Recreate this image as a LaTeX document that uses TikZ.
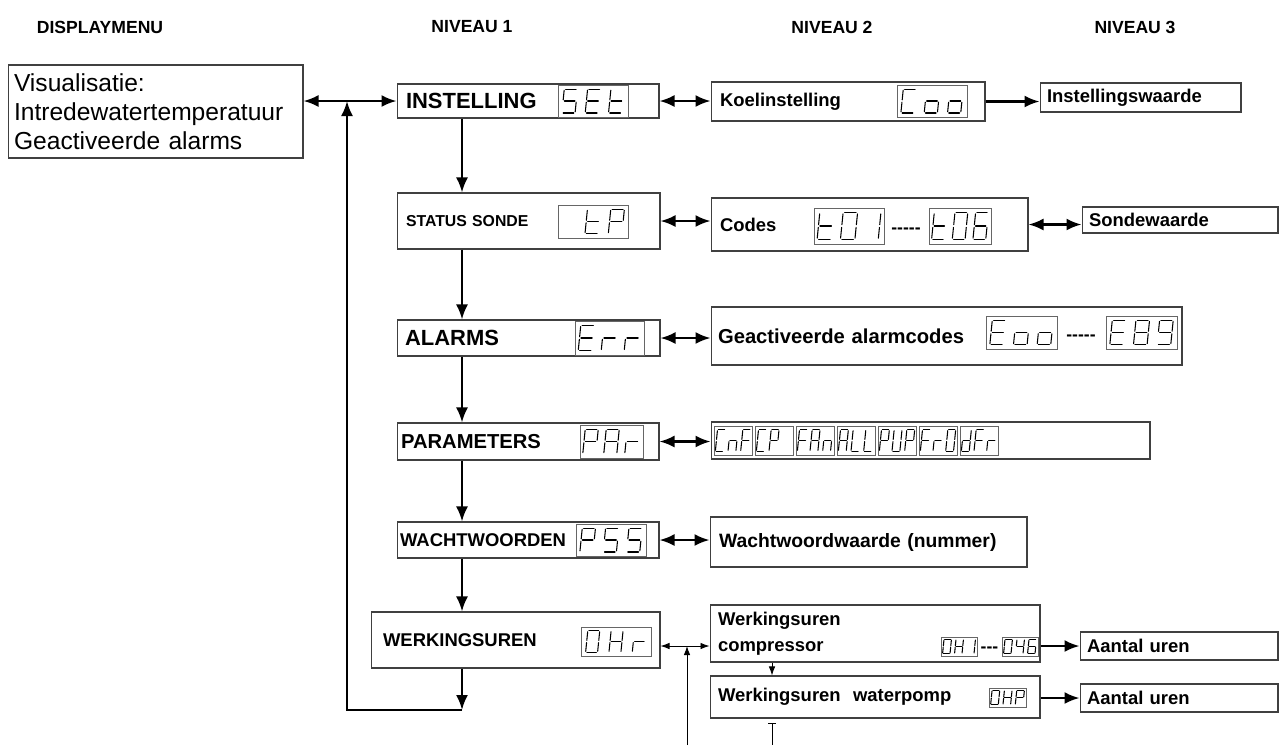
\documentclass[tikz,border=0pt]{standalone}
\usepackage{fontspec}
\setmainfont{Liberation Sans}
\usetikzlibrary{arrows.meta, positioning, calc}
\tikzset{
	boxone/.style  ={rectangle, draw=black!75, line width=0.6pt, inner xsep=0.18cm, inner ysep=0pt, align=left},
	boxtwo/.style  ={rectangle, draw=black!75, line width=0.6pt, inner xsep=0.16cm, inner ysep=0pt, align=left, font=\bfseries\fontsize{10.5}{13}\selectfont},
	headtxt/.style ={font=\bfseries\fontsize{10}{12}\selectfont},
	dashtxt/.style ={font=\bfseries\fontsize{10}{12}\selectfont, inner sep=0pt},
	flow/.style    ={-{Latex[length=3mm,width=2.4mm]}, line width=1.3pt},
	flowboth/.style={{Latex[length=3mm,width=2.4mm]}-{Latex[length=3mm,width=2.4mm]}, line width=1.3pt},
	thinflow/.style={-{Latex[length=1.8mm,width=1.3mm]}, line width=0.5pt},
	thinboth/.style={{Latex[length=1.8mm,width=1.3mm]}-{Latex[length=1.8mm,width=1.3mm]}, line width=0.5pt},
	% seven-segment read-outs
	lcdframe/.style={draw=black!60, line width=0.5pt},
	lcdseg/.style  ={line width=0.6pt, line cap=round},
}
\newcommand\sgA{\draw[lcdseg] (0.1,2)--(0.9,2);}
\newcommand\sgB{\draw[lcdseg] (1,1.9)--(1,1.1);}
\newcommand\sgC{\draw[lcdseg] (1,0.9)--(1,0.1);}
\newcommand\sgD{\draw[lcdseg] (0.1,0)--(0.9,0);}
\newcommand\sgE{\draw[lcdseg] (0,0.1)--(0,0.9);}
\newcommand\sgF{\draw[lcdseg] (0,1.1)--(0,1.9);}
\newcommand\sgG{\draw[lcdseg] (0.1,1)--(0.9,1);}
\newcommand\lcddef[2]{\expandafter\def\csname lcd:#1\endcsname{#2}}
\lcddef{x}{}
\lcddef{S}{\sgA\sgF\sgG\sgC\sgD}
\lcddef{E}{\sgA\sgF\sgG\sgE\sgD}
\lcddef{t}{\sgF\sgG\sgE\sgD}
\lcddef{C}{\sgA\sgF\sgE\sgD}
\lcddef{o}{\sgG\sgC\sgD\sgE}
\lcddef{P}{\sgA\sgB\sgF\sgG\sgE}
\lcddef{r}{\sgG\sgE}
\lcddef{A}{\sgA\sgB\sgC\sgE\sgF\sgG}
\lcddef{n}{\sgE\sgG\sgC}
\lcddef{F}{\sgA\sgF\sgG\sgE}
\lcddef{L}{\sgF\sgE\sgD}
\lcddef{U}{\sgF\sgE\sgD\sgC\sgB}
\lcddef{d}{\sgB\sgC\sgD\sgE\sgG}
\lcddef{H}{\sgF\sgB\sgG\sgE\sgC}
\lcddef{0}{\sgA\sgB\sgC\sgD\sgE\sgF}
\lcddef{1}{\sgB\sgC}
\lcddef{4}{\sgF\sgG\sgB\sgC}
\lcddef{6}{\sgA\sgF\sgG\sgE\sgD\sgC}
\lcddef{8}{\sgA\sgB\sgC\sgD\sgE\sgF\sgG}
\lcddef{9}{\sgA\sgB\sgC\sgD\sgF\sgG}
% \lcd{x1}{y1}{x2}{y2}{chars}
\newcommand\lcd[5]{%
	\draw[lcdframe] (#1,#2) rectangle (#3,#4);
	\foreach \lcdc [count=\lcdi] in {#5} {\xdef\lcdn{\lcdi}}
	\pgfmathsetmacro\lcdw{(#3-#1)/\lcdn}
	\pgfmathsetmacro\lcdh{0.75*(#4-#2)}
	\pgfmathsetmacro\lcdcw{min(0.55*\lcdh,0.62*\lcdw)}
	\foreach \lcdc [count=\lcdi] in {#5} {
		\begin{scope}[shift={({#1+(\lcdi-0.5)*\lcdw-0.5*\lcdcw-0.05*\lcdh},{(#2+#4)/2+\lcdh/2})}, xslant=0.1, x=\lcdcw*0.02cm, y=\lcdh*0.01cm]
			\csname lcd:\lcdc\endcsname
		\end{scope}
	}
}

\begin{document}
\begin{tikzpicture}[x=0.02cm, y=-0.02cm]
	\useasboundingbox (0,0) rectangle (1280,745);
	% column heads
	\node[headtxt] (hdisp) at (100,27) {DISPLAYMENU};
	\node[headtxt] (hniv1) at (472,27) {NIVEAU 1};
	\node[headtxt] (hniv2) at (832,27) {NIVEAU 2};
	\node[headtxt] (hniv3) at (1135,27) {NIVEAU 3};

	\node[boxone, inner xsep=0.12cm, text width=5.66cm, minimum height=1.86cm, font=\fontsize{14}{16.5}\selectfont] (vis) at (155.5,111.5) {Visualisatie:\\Intredewatertemperatuur\\Geactiveerde alarms};

	% niveau 1
	\node[boxone, text width=4.88cm, minimum height=0.68cm, font=\bfseries\fontsize{12.5}{14}\selectfont] (inst) at (528,101) {INSTELLING};
	\node[boxone, text width=4.90cm, minimum height=1.12cm, font=\bfseries\fontsize{9}{11}\selectfont] (stat) at (528.5,221) {STATUS SONDE};
	\node[boxone, inner xsep=0.16cm, text width=4.94cm, minimum height=0.72cm, font=\bfseries\fontsize{12.5}{14}\selectfont] (alrm) at (528.5,338) {ALARMS};
	\node[boxone, inner xsep=0.08cm, text width=5.08cm, minimum height=0.74cm, font=\bfseries\fontsize{11.5}{13}\selectfont] (para) at (528,441.5) {PARAMETERS};
	\node[boxone, inner xsep=0.06cm, text width=5.12cm, minimum height=0.72cm, font=\bfseries\fontsize{10.5}{12}\selectfont] (wach) at (528,540) {WACHTWOORDEN};
	\node[boxone, inner xsep=0.24cm, text width=5.30cm, minimum height=1.12cm, font=\bfseries\fontsize{10.5}{12}\selectfont] (wrk) at (515.5,640) {WERKINGSUREN};

	% niveau 2
	\node[boxtwo, inner xsep=0.18cm, text width=5.12cm, minimum height=0.78cm] (koel) at (848,101.5) {Koelinstelling};
	\node[boxtwo, inner xsep=0.18cm, text width=5.98cm, minimum height=1.06cm] (codes) at (869.5,224.5) {Codes};
	\node[boxtwo, inner xsep=0.14cm, text width=9.14cm, minimum height=1.16cm, font=\bfseries\fontsize{11.5}{13}\selectfont] (alrmc) at (946.5,336) {Geactiveerde\ alarmcodes};
	\node[boxtwo, minimum width=8.78cm, minimum height=0.74cm] (parc) at (930.5,440.5) {};
	\node[boxtwo, inner xsep=0.18cm, text width=5.98cm, minimum height=1.0cm, font=\bfseries\fontsize{11}{13}\selectfont] (pwv) at (868.5,542) {Wachtwoordwaarde (nummer)};
	\node[boxtwo, text width=6.28cm, minimum height=1.14cm, font=\bfseries\fontsize{10.5}{14.8}\selectfont] (comp) at (875,633.5) {Werkingsuren\\compressor};
	\node[boxtwo, text width=6.28cm, minimum height=0.84cm] (wpmp) at (875,697) {Werkingsuren\ \ waterpomp};

	% niveau 3
	\node[boxtwo, inner xsep=0.14cm, text width=3.74cm, minimum height=0.58cm] (instw) at (1140.5,97.5) {Instellingswaarde};
	\node[boxtwo, inner xsep=0.14cm, text width=3.64cm, minimum height=0.52cm] (sonde) at (1180,220) {Sondewaarde};
	\node[boxtwo, inner xsep=0.14cm, text width=3.68cm, minimum height=0.56cm] (aant1) at (1179,646) {Aantal uren};
	\node[boxtwo, inner xsep=0.14cm, text width=3.68cm, minimum height=0.56cm] (aant2) at (1179,698) {Aantal uren};

	% read-outs
	\lcd{558}{85}{628}{117}{S,E,t}
	\lcd{558}{205}{628}{238}{x,t,P}
	\lcd{575}{321}{644}{355}{E,r,r}
	\lcd{580}{425}{643}{458}{P,A,r}
	\lcd{576}{524}{646}{556}{P,S,S}
	\lcd{581}{627}{651}{656}{0,H,r}
	\lcd{897}{85}{967}{117}{C,o,o}
	\lcd{814}{208}{884}{244}{t,0,1}
	\lcd{929}{208}{991}{244}{t,0,6}
	\lcd{986}{316}{1057}{349}{E,o,o}
	\lcd{1106}{316}{1177}{349}{E,8,9}
	\lcd{714}{426}{752}{455}{C,n,F}
	\lcd{755}{426}{793}{455}{C,P,x}
	\lcd{796}{426}{834}{455}{F,A,n}
	\lcd{837}{426}{875}{455}{A,L,L}
	\lcd{878}{426}{916}{455}{P,U,P}
	\lcd{919}{426}{957}{455}{F,r,0}
	\lcd{960}{426}{998}{455}{d,F,r}
	\lcd{941}{637}{977}{656}{0,H,1}
	\lcd{1002}{637}{1038}{656}{0,4,6}
	\lcd{989}{688}{1026}{707}{0,H,P}
	\node[dashtxt] (dcodes) at (906,231) {-{}-{}-{}-{}-};
	\node[dashtxt] (dalrm) at (1081,338) {-{}-{}-{}-{}-};
	\node[dashtxt] (dcomp) at (989.5,650) {-{}-{}-};

	% connectors
	\coordinate (jtop) at (347,101);
	\coordinate (jbot) at (347,710);
	\coordinate (spine) at (462,0);
	\draw[flowboth] (vis.east |- inst.west) -- (inst.west);
	\draw[flow] (inst.south -| spine) -- (stat.north -| spine);
	\draw[flow] (stat.south -| spine) -- (alrm.north -| spine);
	\draw[flow] (alrm.south -| spine) -- (para.north -| spine);
	\draw[flow] (para.south -| spine) -- (wach.north -| spine);
	\draw[flow] (wach.south -| spine) -- (wrk.north -| spine);
	\draw[flow] (wrk.south -| spine) -- (jbot -| spine);
	\draw[flow] (jbot -| spine) -- (jbot) -- (jtop);

	\draw[flowboth] (inst.east) -- (inst.east -| koel.west);
	\draw[flowboth] (stat.east) -- (stat.east -| codes.west);
	\draw[flowboth] (alrm.east) -- (alrm.east -| alrmc.west);
	\draw[flowboth] (para.east) -- (para.east -| parc.west);
	\draw[flowboth] (wach.east) -- (wach.east -| pwv.west);

	\coordinate (jwrk) at (687,646);
	\coordinate (jwrkb) at (687,745);
	\draw[thinboth] (wrk.east |- jwrk) -- (jwrk -| comp.west);
	\draw[thinflow] (jwrkb) -- (jwrk);
	\coordinate (wx) at (772,0);
	\coordinate (wxt) at ($(wpmp.south -| wx)+(0,4)$);
	\coordinate (wxb) at (772,745);
	\draw[thinflow] (comp.south -| wx) -- (wpmp.north -| wx);
	\draw[line width=0.5pt, {Bar[width=4pt]}-] (wxt) -- (wxb);

	\draw[flow] (koel.east) -- (koel.east -| instw.west);
	\draw[flowboth] (codes.east) -- (codes.east -| sonde.west);
	\draw[flow] (comp.east |- aant1.west) -- (aant1.west);
	\draw[flow] (wpmp.east |- aant2.west) -- (aant2.west);
\end{tikzpicture}
\end{document}
